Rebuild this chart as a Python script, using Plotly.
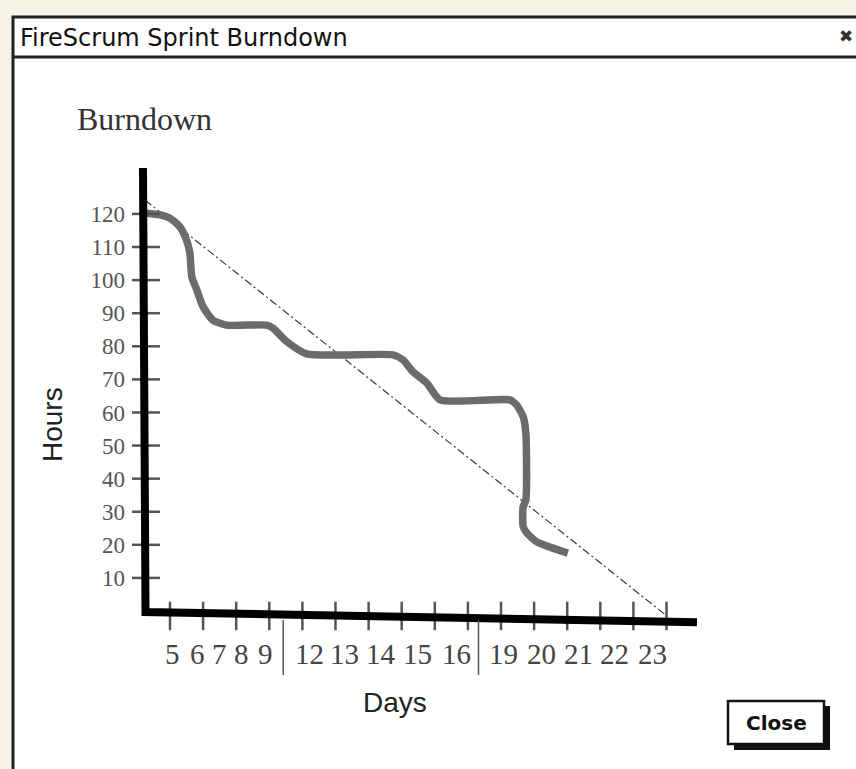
import plotly.graph_objects as go

# ---------------- data ----------------
# x unit: sprint working-day index (tick 1 .. 16 along the axis)
burn_x = [0.30, 0.70, 1.00, 1.30, 1.50, 1.60, 1.66, 1.81, 2.00, 2.30, 2.71, 3.92, 4.11,
          4.53, 5.13, 7.74, 8.04, 8.34, 8.76, 9.16, 11.27, 11.47, 11.67, 11.75, 11.75,
          11.67, 11.67, 11.78, 12.08, 12.57, 13.02]
burn_y = [120.2, 119.7, 118.7, 116.1, 112.1, 108.2, 101.0, 97.0, 91.9, 87.9, 86.4, 86.4, 85.5,
          81.4, 77.7, 77.4, 75.9, 72.3, 68.9, 63.8, 63.8, 62.3, 58.7, 53.8, 33.5,
          31.5, 25.5, 23.6, 20.9, 19.0, 17.5]
ideal_x = [0.245, 15.95]
ideal_y = [124.2, -1.0]

hour_ticks = [10, 20, 30, 40, 50, 60, 70, 80, 90, 100, 110, 120]
day_ticks = list(range(1, 17))
day_labels = ["5", "6", "7", "8", "9", "12", "13", "14", "15", "16", "19", "20", "21", "22", "23"]
day_label_pos = [1.09, 1.82, 2.51, 3.17, 3.87, 5.20, 6.26, 7.38, 8.49, 9.67,
                 11.09, 12.21, 13.33, 14.44, 15.58]
week_dividers = [4.42, 10.32]

# ---------------- layout helpers ----------------
W, H = 856, 769
L, R, T, B = 130, 720, 160, 690


def px(xp):
    return (xp - L) / (R - L)


def py(yp):
    return (B - yp) / (B - T)


X_RANGE = [-0.2085, 17.616]
Y_RANGE = [-23.87, 136.30]

fig = go.Figure()

fig.add_trace(go.Scatter(x=ideal_x, y=ideal_y, mode="lines",
                         line=dict(color="#3a3a3a", width=1.2, dash="8px,3px,2px,3px"),
                         hoverinfo="skip"))
fig.add_trace(go.Scatter(x=burn_x, y=burn_y, mode="lines",
                         line=dict(color="#6b6b6b", width=7.5, shape="spline", smoothing=0.6),
                         hoverinfo="skip"))

shapes = []
# window frame
shapes.append(dict(type="rect", xref="paper", yref="paper", x0=px(13), x1=px(900),
                   y0=py(17), y1=py(800), fillcolor="white",
                   line=dict(color="#222", width=3), layer="below"))
shapes.append(dict(type="line", xref="paper", yref="paper", x0=px(13), x1=px(900),
                   y0=py(57), y1=py(57), line=dict(color="#222", width=3)))
# close button
shapes.append(dict(type="rect", xref="paper", yref="paper", x0=px(734), x1=px(830),
                   y0=py(706), y1=py(750), fillcolor="#111", line=dict(width=0)))
shapes.append(dict(type="rect", xref="paper", yref="paper", x0=px(728), x1=px(824),
                   y0=py(701), y1=py(744), fillcolor="white",
                   line=dict(color="#111", width=2.5)))

# y ticks
for v in hour_ticks:
    shapes.append(dict(type="line", xref="x", yref="y", x0=-0.148, x1=0.698, y0=v, y1=v,
                       line=dict(color="#555", width=2.5)))
# x ticks
for d in day_ticks:
    shapes.append(dict(type="line", xref="x", yref="y", x0=d, x1=d, y0=2.8, y1=-5.8,
                       line=dict(color="#555", width=2.5)))
# axis lines (hand drawn look)
shapes.append(dict(type="path", xref="x", yref="y",
                   path="M 0.184 133.9 L 0.26 -0.3 L 16.92 -3.4",
                   line=dict(color="#000", width=8)))
# week dividers under the axis
for d in week_dividers:
    shapes.append(dict(type="line", xref="x", yref="y", x0=d, x1=d, y0=-2.7, y1=-19.3,
                       line=dict(color="#555", width=1.5)))

annotations = []
for lab, pos in zip(day_labels, day_label_pos):
    annotations.append(dict(x=pos, y=(611 - 654) / 3.309, xref="x", yref="y", text=lab,
                            showarrow=False, font=dict(family="Liberation Serif", size=29,
                                                       color="#444")))
annotations += [
    dict(x=px(18), y=py(38), xref="paper", yref="paper", text="FireScrum Sprint Burndown",
         xanchor="left", yanchor="middle", showarrow=False,
         font=dict(family="DejaVu Sans", size=24, color="#111")),
    dict(x=px(846), y=py(36), xref="paper", yref="paper", text="✖",
         xanchor="center", yanchor="middle", showarrow=False,
         font=dict(family="DejaVu Sans", size=17, color="#333")),
    dict(x=px(75), y=py(119), xref="paper", yref="paper", text="Burndown",
         xanchor="left", yanchor="middle", showarrow=False,
         font=dict(family="Liberation Serif", size=32, color="#333")),
    dict(x=px(52), y=py(425), xref="paper", yref="paper", text="Hours", textangle=-90,
         xanchor="center", yanchor="middle", showarrow=False,
         font=dict(family="Liberation Sans", size=28, color="#222")),
    dict(x=px(395), y=py(702), xref="paper", yref="paper", text="Days",
         xanchor="center", yanchor="middle", showarrow=False,
         font=dict(family="Liberation Sans", size=28, color="#222")),
    dict(x=px(776), y=py(723), xref="paper", yref="paper", text="<b>Close</b>",
         xanchor="center", yanchor="middle", showarrow=False,
         font=dict(family="DejaVu Sans", size=20, color="#111")),
]

fig.update_layout(
    width=W, height=H,
    margin=dict(l=L, r=W - R, t=T, b=H - B, pad=0),
    paper_bgcolor="#f6f2e6",
    plot_bgcolor="rgba(0,0,0,0)",
    showlegend=False,
    shapes=shapes,
    annotations=annotations,
    xaxis=dict(range=X_RANGE, visible=False, fixedrange=True),
    yaxis=dict(range=Y_RANGE, tickvals=hour_ticks, ticktext=[str(v) for v in hour_ticks],
               showgrid=False, zeroline=False, showline=False, ticks="",
               ticklabelstandoff=4,
               tickfont=dict(family="Liberation Serif", size=23, color="#555"),
               fixedrange=True),
)

fig.write_html("out.html", config={"displayModeBar": False},
               post_script="document.body.style.margin='0';document.body.style.overflow='hidden';")
